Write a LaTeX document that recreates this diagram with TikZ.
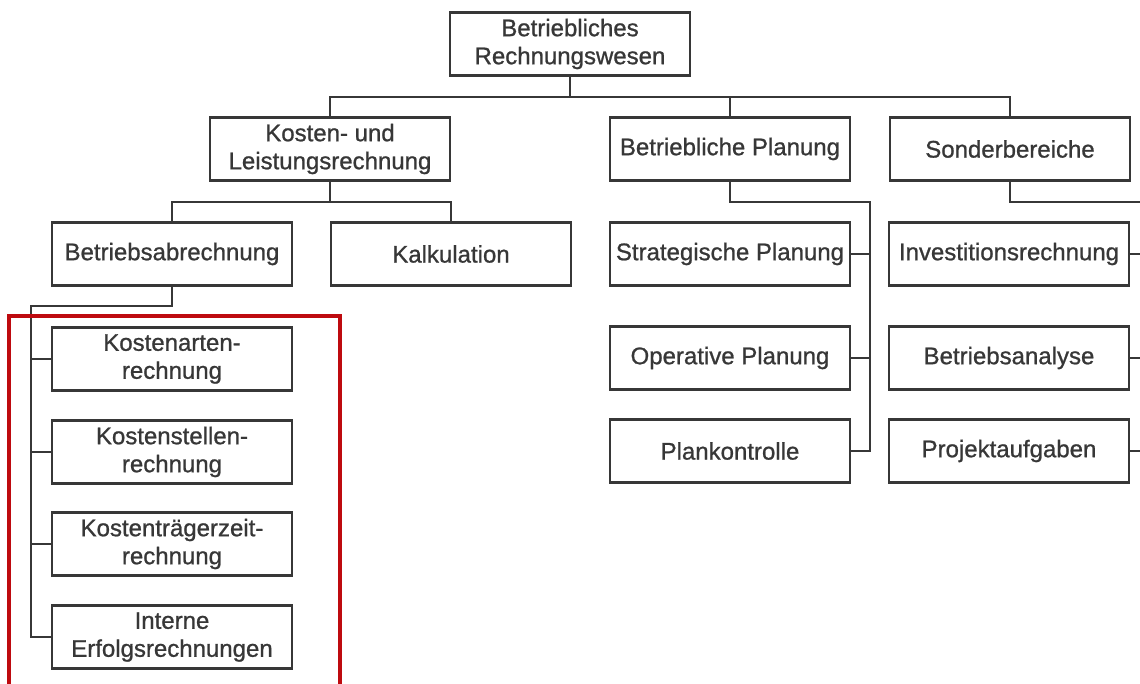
\documentclass[tikz,border=0pt]{standalone}
\usepackage{fontspec}
\setmainfont{Liberation Sans}[UprightFeatures={FakeBold=0.9}]
\definecolor{ink}{RGB}{55,55,55}
\definecolor{frame}{RGB}{190,10,15}
\tikzset{
  box/.style={draw=ink, line width=2.3pt, minimum width=240pt, minimum height=63pt,
    inner sep=0pt, align=center, text=ink, font=\fontsize{24}{28}\selectfont},
  conn/.style={draw=ink, line width=2.3pt}
}
\begin{document}
\begin{tikzpicture}[x=1pt,y=-1pt]
\useasboundingbox (0,0) rectangle (1140,684);
\clip (0,0) rectangle (1140,684);
\fill[white] (0,0) rectangle (1140,684);
% nodes
\node[box] (top) at (570,44) {Betriebliches\\Rechnungswesen};
\node[box] (kl) at (330,149) {Kosten- und\\Leistungsrechnung};
\node[box] (bp) at (730,149) {Betriebliche Planung};
\node[box] (sb) at (1010,149) {Sonderbereiche};
\node[box] (ba) at (172,254) {Betriebsabrechnung};
\node[box] (ka) at (451,254) {Kalkulation};
\node[box] (sp) at (730,254) {Strategische Planung};
\node[box] (op) at (730,358) {Operative Planung};
\node[box] (pk) at (730,451) {Plankontrolle};
\node[box] (ir) at (1009,254) {Investitionsrechnung};
\node[box] (bn) at (1009,358) {Betriebsanalyse};
\node[box] (pa) at (1009,451) {Projektaufgaben};
\node[box] (k1) at (172,359) {Kostenarten-\\rechnung};
\node[box] (k2) at (172,452) {Kostenstellen-\\rechnung};
\node[box] (k3) at (172,544) {Kostenträgerzeit-\\rechnung};
\node[box] (k4) at (172,637) {Interne\\Erfolgsrechnungen};
% junctions
\coordinate (b1) at (570,97);
\coordinate (b2) at (330,202);
\coordinate (b3) at (31,306);
\coordinate (b4) at (870,202);
\coordinate (b5) at (1150,202);
% connectors
\draw[conn] (top.south) -- (b1);
\draw[conn] (kl.north) |- (b1) -| (sb.north);
\draw[conn] (bp.north) -- (bp.north |- b1);
\draw[conn] (kl.south) -- (b2);
\draw[conn] (ba.north) |- (b2) -| (ka.north);
\draw[conn] (ba.south) |- (b3) |- (k4.west);
\draw[conn] (k1.west) -- (k1.west -| b3);
\draw[conn] (k2.west) -- (k2.west -| b3);
\draw[conn] (k3.west) -- (k3.west -| b3);
\draw[conn] (bp.south) |- (b4) |- (pk.east);
\draw[conn] (sp.east) -- (sp.east -| b4);
\draw[conn] (op.east) -- (op.east -| b4);
\draw[conn] (sb.south) |- (b5) |- (pa.east);
\draw[conn] (ir.east) -- (ir.east -| b5);
\draw[conn] (bn.east) -- (bn.east -| b5);
% red frame
\draw[frame, line width=4pt] (9,316) rectangle (340,720);
\end{tikzpicture}
\end{document}
